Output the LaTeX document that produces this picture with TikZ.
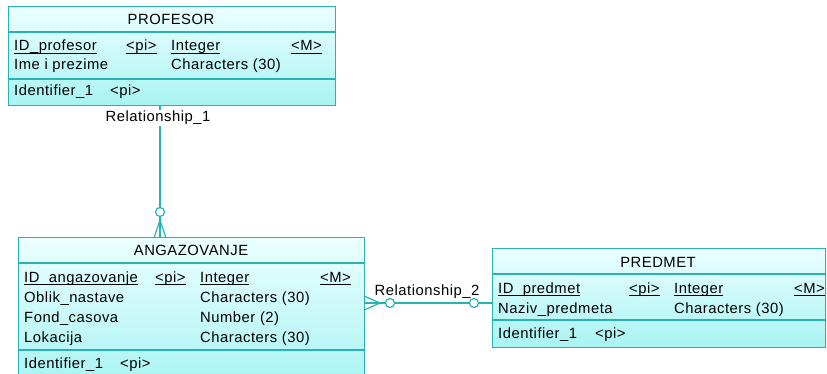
\documentclass[tikz,border=0pt]{standalone}
\usepackage{fontspec}
\setmainfont[LetterSpace=3.5]{Liberation Sans}
\usetikzlibrary{positioning}
\definecolor{erline}{RGB}{40,178,178}
\definecolor{ertop}{RGB}{236,255,255}
\definecolor{erbot}{RGB}{168,243,243}
\newcommand{\keyul}[1]{\setbox0\hbox{#1}\rlap{\rule[-2.6pt]{\wd0}{1pt}}\box0}

\begin{document}
\begin{tikzpicture}[
  x=1pt, y=-1pt,
  entity/.style={draw=erline,line width=1.2pt,top color=ertop,bottom color=erbot,anchor=north west,inner sep=0pt},
  sep/.style={draw=erline,line width=1.2pt},
  fld/.style={anchor=base west,inner sep=0pt,font=\fontsize{14.8}{17}\selectfont},
  ttl/.style={fld,anchor=base},
  rel/.style={draw=erline,line width=1.2pt},
  lbl/.style={fld,anchor=base,fill=white,inner sep=1pt},
  opt/.style={circle,draw=erline,line width=1.2pt,fill=white,minimum size=9pt,inner sep=0pt}
]
\useasboundingbox (0,0) rectangle (827,374);
\clip (0,0) rectangle (827,374);

% entities
\node[entity,minimum width=327pt,minimum height=99pt] (prof) at (8,6) {};
\node[entity,minimum width=346pt,minimum height=150pt] (ang) at (18,237) {};
\node[entity,minimum width=333pt,minimum height=99pt] (pred) at (492,248) {};

\draw[sep] ([yshift=-26pt]prof.north west) -- ([yshift=-26pt]prof.north east);
\draw[sep] ([yshift=-73pt]prof.north west) -- ([yshift=-73pt]prof.north east);
\draw[sep] ([yshift=-26pt]ang.north west) -- ([yshift=-26pt]ang.north east);
\draw[sep] ([yshift=-113pt]ang.north west) -- ([yshift=-113pt]ang.north east);
\draw[sep] ([yshift=-26pt]pred.north west) -- ([yshift=-26pt]pred.north east);
\draw[sep] ([yshift=-72pt]pred.north west) -- ([yshift=-72pt]pred.north east);

% PROFESOR
\node[ttl] (profT) at (171,25) {PROFESOR};
\node[fld] (profA1) at (14,51) {\keyul{ID\_profesor}};
\node[fld] (profP1) at (126,51) {\keyul{<pi>}};
\node[fld] (profD1) at (171,51) {\keyul{Integer}};
\node[fld] (profM1) at (291,51) {\keyul{<M>}};
\node[fld] (profA2) at (14,70) {Ime i prezime};
\node[fld] (profD2) at (171,70) {Characters (30)};
\node[fld] (profI) at (14,96) {Identifier\_1};
\node[fld] (profIP) at (110,96) {<pi>};

% ANGAZOVANJE
\node[ttl] (angT) at (191,255) {ANGAZOVANJE};
\node[fld] (angA1) at (24,282) {\keyul{ID\_angazovanje}};
\node[fld] (angP1) at (155,282) {\keyul{<pi>}};
\node[fld] (angD1) at (200,282) {\keyul{Integer}};
\node[fld] (angM1) at (320,282) {\keyul{<M>}};
\node[fld] (angA2) at (24,302) {Oblik\_nastave};
\node[fld] (angD2) at (200,302) {Characters (30)};
\node[fld] (angA3) at (24,322) {Fond\_casova};
\node[fld] (angD3) at (200,322) {Number (2)};
\node[fld] (angA4) at (24,342) {Lokacija};
\node[fld] (angD4) at (200,342) {Characters (30)};
\node[fld] (angI) at (24,368) {Identifier\_1};
\node[fld] (angIP) at (120,368) {<pi>};

% PREDMET
\node[ttl] (predT) at (658,267) {PREDMET};
\node[fld] (predA1) at (498,293) {\keyul{ID\_predmet}};
\node[fld] (predP1) at (629,293) {\keyul{<pi>}};
\node[fld] (predD1) at (674,293) {\keyul{Integer}};
\node[fld] (predM1) at (794,293) {\keyul{<M>}};
\node[fld] (predA2) at (498,313) {Naziv\_predmeta};
\node[fld] (predD2) at (674,313) {Characters (30)};
\node[fld] (predI) at (498,338) {Identifier\_1};
\node[fld] (predIP) at (595,338) {<pi>};

% Relationship_1
\node[opt] (r1o) at (160,212) {};
\coordinate (r1ap) at (160,220);
\coordinate (r1f1) at (154,238);
\coordinate (r1f2) at (160,238);
\coordinate (r1f3) at (166,238);
\draw[rel] (r1o |- prof.south) -- (r1o);
\draw[rel] (r1o) -- (r1ap);
\draw[rel] (r1ap) -- (r1f1);
\draw[rel] (r1ap) -- (r1f2);
\draw[rel] (r1ap) -- (r1f3);
\fill[erline] (r1ap) circle (1.5pt);
\node[lbl] (r1lbl) at (158,122) {Relationship\_1};

% Relationship_2
\node[opt] (r2a) at (390,303) {};
\node[opt] (r2b) at (474,303) {};
\coordinate (r2ap) at (380,303);
\coordinate (r2f1) at (364,296);
\coordinate (r2f2) at (364,303);
\coordinate (r2f3) at (364,310);
\draw[rel] (r2f1) -- (r2ap);
\draw[rel] (r2f2) -- (r2ap);
\draw[rel] (r2f3) -- (r2ap);
\fill[erline] (r2ap) circle (1.5pt);
\draw[rel] (r2ap) -- (r2a);
\draw[rel] (r2a) -- (r2b);
\draw[rel] (r2b) -- (pred.west |- r2b);
\node[fld,anchor=base] (r2lbl) at (427,295) {Relationship\_2};
\end{tikzpicture}
\end{document}
